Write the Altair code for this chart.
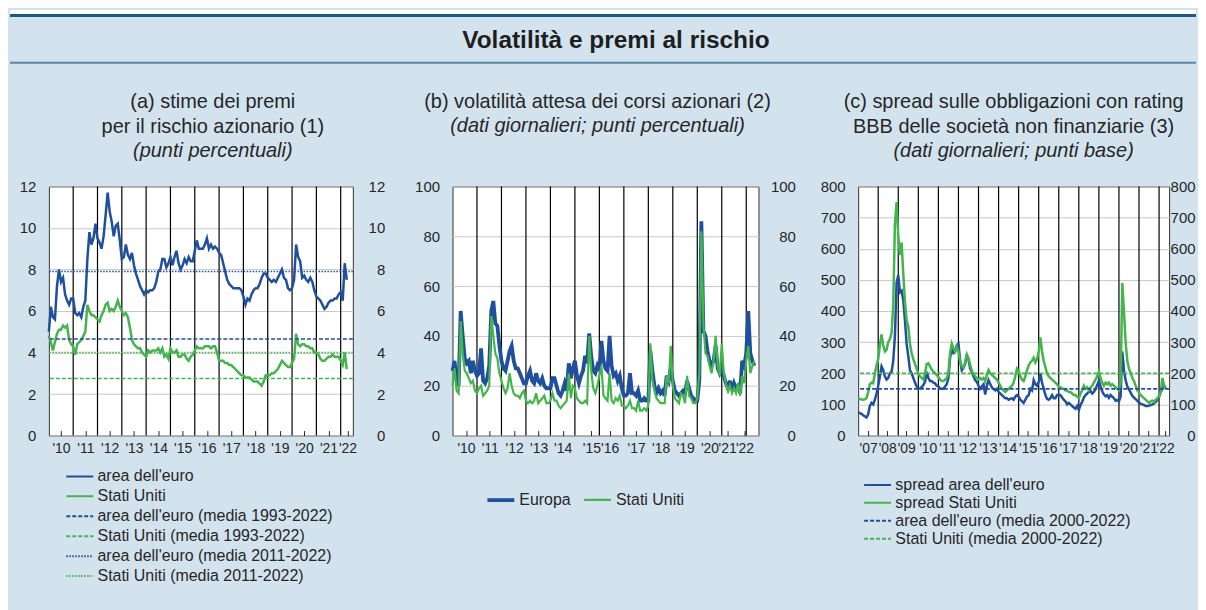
import altair as alt
import numpy as np
import pandas as pd

FONT = "Liberation Sans"
BG = "#d3e3ee"
BLUE = "#1f4f9f"
GREEN = "#42b54b"
GRID = "#c8c8c8"
INK = "#262626"

TITLE = "Volatilità e premi al rischio"

# ---------------- panel (a): monthly values from Jan 2010 ----------------
A_START = 2010
A_EURO = [5.0, 6.2, 5.7, 5.6, 7.2, 8.0, 7.4, 7.6, 6.8, 6.5, 6.3, 6.6,
          6.6, 5.9, 5.8, 5.9, 5.7, 6.2, 6.5, 8.5, 9.8, 9.2, 9.5, 10.2,
          9.5, 9.3, 9.0, 9.6, 10.6, 11.7, 10.8, 10.3, 9.6, 10.1, 10.2, 9.4,
          8.5, 8.6, 9.2, 8.7, 8.5, 8.8, 8.2, 7.8, 7.5, 7.2, 7.0, 6.8,
          7.0, 6.9, 7.0, 7.0, 7.1, 7.4, 7.9, 8.0, 8.5, 8.5, 8.1, 8.3,
          8.6, 8.2, 8.6, 8.9, 8.3, 8.0, 8.2, 8.5, 8.3, 8.6, 8.4, 8.4,
          8.9, 9.4, 9.0, 9.0, 9.0, 9.2, 9.5, 9.0, 9.2, 9.0, 9.1, 9.0,
          8.8, 8.7, 8.3, 7.9, 7.5, 7.3, 7.2, 7.1, 7.1, 7.1, 7.1, 7.0,
          6.7, 6.3, 6.6, 6.5, 6.8, 7.0, 7.1, 7.1, 7.3, 7.6, 7.8, 7.8,
          7.6, 7.5, 7.4, 7.5, 7.4, 7.6, 7.8, 8.0, 7.6, 7.5, 7.1, 7.0,
          7.1, 7.5, 9.2, 8.6, 8.4, 7.6, 7.7, 7.5, 7.4, 7.6, 7.4, 7.0,
          6.7, 6.6, 6.5, 6.3, 6.1, 6.2, 6.4, 6.5, 6.5, 6.6, 6.6, 6.8,
          6.9, 6.5, 8.3, 7.5]
A_US = [4.8, 4.5, 4.1, 4.5, 4.9, 5.1, 5.1, 5.3, 5.2, 5.3, 4.6, 4.4,
        4.3, 3.9, 4.4, 4.5, 4.6, 4.8, 5.0, 6.3, 6.0, 5.8, 5.8, 5.7,
        5.6, 5.5, 5.8, 6.0, 6.3, 6.4, 6.0, 6.1, 6.0, 6.2, 6.5, 6.2,
        6.0, 5.8, 5.9, 5.7, 5.2, 4.6, 4.4, 4.3, 4.2, 4.2, 4.0, 3.9,
        3.8, 4.1, 4.0, 4.1, 4.1, 4.1, 4.2, 4.0, 4.2, 3.8, 3.9, 3.7,
        4.2, 4.0, 4.0, 4.1, 3.8, 3.8, 3.9, 3.9, 3.7, 3.6, 3.8, 3.9,
        4.1, 4.3, 4.2, 4.2, 4.2, 4.3, 4.3, 4.3, 4.2, 4.3, 4.3, 4.0,
        3.6, 3.6, 3.6, 3.5, 3.5, 3.4, 3.4, 3.3, 3.2, 3.1, 3.0, 2.9,
        2.9, 2.8, 2.8, 2.8, 2.7, 2.6, 2.6, 2.6, 2.5, 2.4, 2.6, 2.9,
        2.9, 2.9, 3.0, 3.0, 3.1, 3.2, 3.4, 3.6, 3.5, 3.4, 3.3, 3.3,
        3.5, 3.7, 4.9, 4.4, 4.3, 4.4, 4.4, 4.3, 4.3, 4.2, 4.2, 4.0,
        4.0, 3.9, 3.7, 3.6, 3.6, 3.7, 3.8, 3.8, 3.9, 3.8, 3.8, 3.8,
        3.6, 3.4, 4.0, 3.2]
A_SERIES = ["area dell'euro", "Stati Uniti",
            "area dell'euro (media 1993-2022)", "Stati Uniti (media 1993-2022)",
            "area dell'euro (media 2011-2022)", "Stati Uniti (media 2011-2022)"]
A_MEANS = [4.65, 2.75, 7.9, 4.0]
A_YEARS = list(range(2011, 2023))
A_TICKS = [2010.5, 2011.5, 2012.5, 2013.5, 2014.5, 2015.5, 2016.5,
           2017.5, 2018.5, 2019.5, 2020.5, 2021.5, 2022.28]

# ---------------- panel (b): monthly values from Jan 2010 ----------------
B_START = 2010
B_EU = [26, 30, 22, 20, 50, 40, 31, 29, 30, 25, 30, 26,
        24, 25, 35, 22, 21, 23, 28, 50, 54, 45, 44, 36,
        30, 27, 26, 30, 34, 36, 30, 27, 27, 25, 23, 21,
        21, 24, 26, 22, 21, 25, 22, 21, 23, 20, 19, 19,
        19, 23, 23, 20, 17, 16, 18, 21, 18, 29, 23, 27,
        30, 24, 21, 24, 26, 32, 29, 41, 32, 26, 25, 28,
        26, 38, 30, 27, 26, 40, 28, 24, 25, 22, 24, 19,
        16, 16, 17, 25, 17, 17, 16, 18, 14, 14, 15, 14,
        14, 34, 26, 20, 17, 19, 17, 18, 16, 24, 22, 27,
        22, 18, 17, 16, 17, 18, 17, 22, 19, 16, 15, 14,
        14, 22, 86, 42, 40, 34, 30, 28, 30, 36, 27, 25,
        27, 24, 21, 19, 22, 18, 21, 19, 20, 17, 30, 28,
        33, 50, 33, 30, 28]
B_US = [20, 27, 18, 17, 46, 33, 26, 25, 23, 21, 22, 18,
        17, 19, 20, 16, 17, 18, 20, 48, 40, 33, 31, 25,
        22, 19, 17, 19, 25, 20, 17, 16, 16, 15, 17, 18,
        14, 13, 14, 13, 14, 17, 13, 14, 15, 16, 13, 13,
        14, 17, 14, 14, 12, 11, 12, 13, 14, 25, 15, 20,
        19, 15, 14, 13, 13, 14, 13, 40, 26, 19, 17, 20,
        24, 28, 16, 15, 14, 25, 14, 13, 15, 14, 16, 12,
        12, 11, 12, 14, 11, 11, 10, 14, 10, 10, 11, 10,
        12, 37, 22, 18, 15, 14, 13, 13, 13, 24, 21, 36,
        20, 15, 14, 13, 17, 16, 13, 24, 16, 15, 13, 13,
        15, 25, 82, 45, 33, 32, 28, 25, 30, 40, 28, 24,
        37, 25, 21, 18, 20, 17, 19, 17, 21, 16, 24, 21,
        30, 36, 25, 28, 30]
B_SERIES = ["Europa", "Stati Uniti"]
B_YEARS = list(range(2011, 2023))
B_TICKS = [2010.55, 2011.52, 2012.52, 2013.52, 2014.5, 2015.67, 2016.42,
           2017.5, 2018.5, 2019.5, 2020.5, 2021.22, 2021.93]

# ---------------- panel (c): monthly values from Jan 2007 ----------------
C_START = 2007
C_EU = [75, 72, 70, 65, 62, 58, 68, 95, 105, 100, 115, 135,
        160, 190, 222, 210, 190, 180, 185, 200, 205, 240, 320, 490,
        515, 460, 465, 435, 370, 295, 255, 210, 200, 185, 170, 158,
        150, 152, 155, 162, 172, 205, 185, 175, 175, 170, 168, 160,
        158, 152, 150, 150, 158, 165, 185, 250, 280, 265, 270, 290,
        295, 240, 210, 218, 230, 258, 245, 215, 205, 190, 178, 172,
        160, 150, 158, 165, 132, 160, 178, 165, 155, 150, 145, 150,
        140, 135, 130, 125, 120, 120, 115, 118, 120, 115, 125, 130,
        125, 115, 110, 105, 115, 125, 130, 150, 145, 178, 165, 160,
        172, 200, 170, 150, 130, 118, 115, 120, 130, 120, 120, 130,
        130, 130, 122, 115, 110, 100, 105, 100, 95, 90, 86, 95,
        82, 98, 108, 122, 130, 135, 140, 143, 135, 140, 150, 162,
        175, 158, 142, 132, 126, 130, 121, 130, 125, 120, 112, 114,
        110, 125, 270, 210, 178, 158, 148, 138, 128, 122, 117, 112,
        106, 102, 100, 98, 95, 95, 96, 98, 100, 103, 108, 115,
        125, 140, 150, 160, 155]
C_US = [120, 118, 116, 115, 116, 120, 140, 165, 170, 168, 200, 225,
        245, 290, 325, 290, 270, 275, 300, 310, 330, 420, 680, 750,
        640, 580, 620, 520, 430, 370, 350, 295, 265, 245, 230, 215,
        200, 190, 185, 180, 200, 230, 232, 222, 212, 205, 200, 195,
        188, 180, 175, 175, 180, 185, 200, 265, 295, 280, 270, 285,
        270, 238, 222, 218, 235, 260, 248, 228, 208, 198, 190, 185,
        180, 185, 180, 185, 175, 195, 210, 200, 195, 190, 185, 180,
        170, 160, 150, 145, 140, 145, 150, 155, 160, 170, 190, 215,
        208, 190, 180, 175, 190, 210, 225, 235, 240, 250, 235, 245,
        270, 315, 270, 240, 220, 200, 190, 185, 180, 175, 170, 165,
        155, 155, 150, 150, 145, 145, 140, 140, 135, 130, 130, 125,
        120, 135, 145, 160, 150, 155, 145, 155, 160, 170, 180, 190,
        205, 185, 170, 160, 170, 165, 170, 160, 165, 160, 155, 150,
        145, 170, 490, 400, 300, 240, 215, 200, 185, 175, 160, 145,
        138, 130, 125, 120, 115, 110, 105, 110, 112, 108, 115, 120,
        125, 140, 185, 160, 150]
C_SERIES = ["spread area dell'euro", "spread Stati Uniti",
            "area dell'euro (media 2000-2022)", "Stati Uniti (media 2000-2022)"]
C_MEANS = [150, 200]
C_YEARS = list(range(2008, 2023))
C_TICKS = [2007.5, 2008.45, 2009.4, 2010.47, 2011.45, 2012.45, 2013.47, 2014.45,
           2015.45, 2016.46, 2017.46, 2018.46, 2019.47, 2020.47, 2021.47, 2022.3]


def monthly(start, values, serie):
    t = start + np.arange(len(values)) / 12.0
    return pd.DataFrame({"t": t, "v": values, "serie": serie})


LABEL_EXPR = "\"'\" + substring(toString(floor(datum.value + 0.1)), 2, 4)"


def x_enc(domain, ticks):
    return alt.X("t:Q", scale=alt.Scale(domain=domain, nice=False, zero=False),
                 axis=alt.Axis(values=ticks, labelExpr=LABEL_EXPR, grid=False, domain=False,
                               tickSize=5, tickColor=INK, tickWidth=1, offset=-5,
                               labelPadding=6, labelFontSize=14, labelColor=INK,
                               labelFlush=False, labelOverlap=False, labelBound=False,
                               title=None))


def y_left(domain, ticks):
    return alt.Y("v:Q", scale=alt.Scale(domain=domain, nice=False, zero=True),
                 axis=alt.Axis(values=ticks, grid=True, gridColor=GRID, gridWidth=1,
                               domain=False, ticks=False, labelPadding=13, labelFontSize=15,
                               labelColor=INK, labelFlush=False, title=None, orient="left"))


def y_right(domain, ticks, pad):
    return alt.Y("v:Q", scale=alt.Scale(domain=domain, nice=False, zero=True),
                 axis=alt.Axis(values=ticks, grid=False, domain=False, ticks=False,
                               labelAlign="right", labelPadding=pad, labelFontSize=15,
                               labelColor=INK, labelFlush=False, title=None, orient="right"))


def legend(x, y, sym_size, sym_path, label_off, direction="vertical", columns=1):
    # the symbol is a horizontal stroke about 27 px long
    return alt.Legend(orient="none", legendX=x, legendY=y, title=None, direction=direction,
                      columns=columns, columnPadding=8, rowPadding=0,
                      labelFontSize=16, labelColor=INK, labelFont=FONT, labelLimit=500,
                      labelOffset=label_off, symbolType=sym_path, symbolSize=sym_size,
                      symbolStrokeWidth=2, padding=0)


def year_rules(years, xdom, ticks):
    df = pd.DataFrame({"t": years})
    return alt.Chart(df).mark_rule(color="black", strokeWidth=1.2).encode(x=x_enc(xdom, ticks))


def title(lines, sub, dx):
    return alt.TitleParams(text=lines, subtitle=sub, font=FONT, fontSize=20, fontWeight="normal",
                           color=INK, lineHeight=25, subtitleFont=FONT, subtitleFontSize=20,
                           subtitleFontStyle="italic", subtitleColor=INK, subtitleLineHeight=25,
                           subtitlePadding=4.5, anchor="middle", frame="group", offset=18.5, dx=dx)


VIEW = alt.ViewBackground(fill="white", stroke="#333333", strokeWidth=1)

# ---------------- panel (a) ----------------
a_xdom, a_ydom, a_yt = [2010, 2022.5], [0, 12], list(range(0, 13, 2))
a_leg = legend(19, 279, 458, "M-1.262,0H1.262", 5.8)
a_col = alt.Color("serie:N", scale=alt.Scale(domain=A_SERIES, range=[BLUE, GREEN] * 3), legend=a_leg)
a_dash = alt.StrokeDash("serie:N", scale=alt.Scale(domain=A_SERIES,
                        range=[[1, 0], [1, 0], [4, 2], [4, 2], [1.5, 1.5], [1.5, 1.5]]), legend=a_leg)
a_lines = [alt.Chart(monthly(A_START, vals, name)).mark_line(strokeWidth=2.5).encode(
    x=x_enc(a_xdom, A_TICKS), y=y_left(a_ydom, a_yt), color=a_col, strokeDash=a_dash)
    for vals, name in [(A_EURO, A_SERIES[0]), (A_US, A_SERIES[1])]]
a_ref_df = pd.DataFrame({"v": A_MEANS, "serie": A_SERIES[2:]})
a_ref = alt.Chart(a_ref_df).mark_rule(strokeWidth=1.6).encode(
    y=y_left(a_ydom, a_yt), color=a_col, strokeDash=a_dash)
a_inner = alt.layer(year_rules(A_YEARS, a_xdom, A_TICKS), *a_lines, a_ref)
a_right = alt.Chart(a_ref_df).mark_rule(opacity=0).encode(y=y_right(a_ydom, a_yt, 32))
panel_a = alt.layer(a_inner, a_right).resolve_scale(y="independent").properties(
    width=305, height=250, view=VIEW,
    title=title(["(a) stime dei premi", "per il rischio azionario (1)"], ["(punti percentuali)"], 12))

# ---------------- panel (b) ----------------
b_xdom, b_ydom, b_yt = [2010, 2022.5], [0, 100], list(range(0, 101, 20))
b_leg = legend(33, 299, 729, "stroke", 3, direction="horizontal", columns=2)
b_col = alt.Color("serie:N", scale=alt.Scale(domain=B_SERIES, range=[BLUE, GREEN]), legend=b_leg)
b_sw = alt.StrokeWidth("serie:N", scale=alt.Scale(domain=B_SERIES, range=[3.8, 2.2]), legend=b_leg)
b_lines = [alt.Chart(monthly(B_START, vals, name)).mark_line().encode(
    x=x_enc(b_xdom, B_TICKS), y=y_left(b_ydom, b_yt), color=b_col, strokeWidth=b_sw)
    for vals, name in [(B_EU, B_SERIES[0]), (B_US, B_SERIES[1])]]
b_inner = alt.layer(year_rules(B_YEARS, b_xdom, B_TICKS), *b_lines)
b_right = alt.Chart(pd.DataFrame({"v": [0]})).mark_rule(opacity=0).encode(y=y_right(b_ydom, b_yt, 37))
panel_b = alt.layer(b_inner, b_right).resolve_scale(y="independent").properties(
    width=307, height=250, view=VIEW,
    title=title(["(b) volatilità attesa dei corsi azionari (2)"],
                ["(dati giornalieri; punti percentuali)", " "], -8))

# ---------------- panel (c) ----------------
c_xdom, c_ydom, c_yt = [2007, 2022.5], [0, 800], list(range(0, 801, 100))
c_leg = legend(10, 290, 269, "M-1.646,0H1.646", 8.3)
c_col = alt.Color("serie:N", scale=alt.Scale(domain=C_SERIES, range=[BLUE, GREEN] * 2), legend=c_leg)
c_dash = alt.StrokeDash("serie:N", scale=alt.Scale(domain=C_SERIES,
                        range=[[1, 0], [1, 0], [4, 2], [4, 2]]), legend=c_leg)
c_lines = [alt.Chart(monthly(C_START, vals, name)).mark_line(strokeWidth=2.5).encode(
    x=x_enc(c_xdom, C_TICKS), y=y_left(c_ydom, c_yt), color=c_col, strokeDash=c_dash)
    for vals, name in [(C_EU, C_SERIES[0]), (C_US, C_SERIES[1])]]
c_ref_df = pd.DataFrame({"v": C_MEANS, "serie": C_SERIES[2:]})
c_ref = alt.Chart(c_ref_df).mark_rule(strokeWidth=1.6).encode(
    y=y_left(c_ydom, c_yt), color=c_col, strokeDash=c_dash)
c_inner = alt.layer(year_rules(C_YEARS, c_xdom, C_TICKS), *c_lines, c_ref)
c_right = alt.Chart(c_ref_df).mark_rule(opacity=0).encode(y=y_right(c_ydom, c_yt, 26))
panel_c = alt.layer(c_inner, c_right).resolve_scale(y="independent").properties(
    width=312, height=250, view=VIEW,
    title=title(["(c) spread sulle obbligazioni con rating", "BBB delle società non finanziarie (3)"],
                ["(dati giornalieri; punti base)"], 0))

panels = alt.hconcat(panel_a, panel_b, panel_c, spacing=100, bounds="flush").resolve_scale(
    color="independent", strokeDash="independent", strokeWidth="independent")

# ---------------- header band ----------------
hdr = alt.Chart(pd.DataFrame({"label": [TITLE]}))
H_L, H_R = -39, 1151
header = alt.layer(
    hdr.mark_rect(color="white").encode(x=alt.value(H_L), x2=alt.value(H_R), y=alt.value(0), y2=alt.value(4)),
    hdr.mark_rule(color="#1b5b85", strokeWidth=3).encode(x=alt.value(H_L), x2=alt.value(H_R), y=alt.value(5.5)),
    hdr.mark_text(font=FONT, fontSize=24.5, fontWeight="bold", color="#1e1e1e", align="center",
                  baseline="middle").encode(x=alt.value(569), y=alt.value(31), text="label:N"),
    hdr.mark_rule(color="#5589ab", strokeWidth=2).encode(x=alt.value(H_L), x2=alt.value(H_R), y=alt.value(53)),
).properties(width=1151, height=56)

chart = alt.vconcat(header, panels, spacing=24).properties(
    padding={"left": 0, "top": 0, "right": 0, "bottom": 24}
).configure(background=BG, font=FONT).configure_view(stroke="transparent")

chart.save("out.html", embed_options={"renderer": "svg", "actions": False})
